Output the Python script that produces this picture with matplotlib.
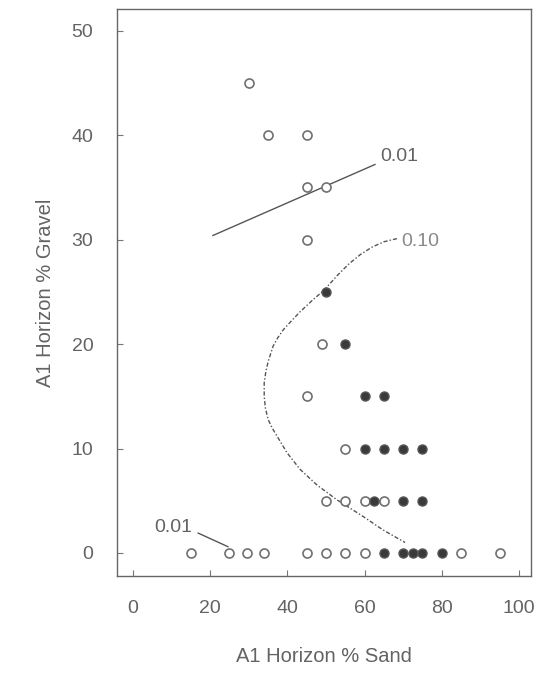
import numpy as np
import matplotlib
matplotlib.use("Agg")
import matplotlib.pyplot as plt

plt.rcParams["font.family"] = ["Liberation Sans", "DejaVu Sans"]

# open circles (sand %, gravel %)
open_sand = [30, 35, 45, 45, 50, 45, 49, 45, 55,
             50, 55, 60, 65,
             15, 25, 29.5, 34, 45, 50, 55, 60, 85, 95]
open_gravel = [45, 40, 40, 35, 35, 30, 20, 15, 10,
               5, 5, 5, 5,
               0, 0, 0, 0, 0, 0, 0, 0, 0, 0]

# filled circles
fill_sand = [50, 55, 60, 65, 60, 65, 70, 75, 62.5, 70, 75, 65, 70, 72.5, 75, 80]
fill_gravel = [25, 20, 15, 15, 10, 10, 10, 10, 5, 5, 5, 0, 0, 0, 0, 0]

# 0.01 contour (straight segment)
c01_sand = [20.7, 62.7]
c01_gravel = [30.4, 37.2]

# 0.10 contour, points
c10_sand = [68.4, 65.0, 62.0, 59.0, 56.0, 53.0, 49.6, 46.5, 43.3, 41.0,
            39.0, 37.5, 36.3, 35.0, 34.4, 34.0, 34.0, 34.3, 35.0, 36.0, 37.3,
            39.9, 43.3, 47.7, 52.8, 59.6, 64.8, 70.5]
c10_gravel = [30.1, 29.8, 29.3, 28.6, 27.7, 26.6, 25.2, 24.2, 23.1, 22.2,
              21.4, 20.6, 19.8, 18.3, 17.3, 16.3, 15.0, 13.9, 12.8, 12.0, 11.2,
              9.6, 8.0, 6.5, 5.1, 3.5, 2.2, 1.0]

x_ticks = [0, 20, 40, 60, 80, 100]
y_ticks = [0, 10, 20, 30, 40, 50]

txt = "#636363"
line_c = "#555555"

fig = plt.figure(figsize=(5.39, 6.84), dpi=100)
ax = fig.add_axes([0.217, 0.158, 0.768, 0.829])

ax.plot(c01_sand, c01_gravel, color=line_c, lw=1.0)
ax.plot(c10_sand, c10_gravel, color=line_c, lw=1.0, linestyle=(0, (3, 1.5, 1, 1.5)))

ax.plot(open_sand, open_gravel, "o", ms=6.5, mfc="white", mec="#707070", mew=1.2, ls="none")
ax.plot(fill_sand, fill_gravel, "o", ms=6.5, mfc="#3a3a3a", mec="#555555", mew=1.0, ls="none")

# contour labels
ax.text(64, 38, "0.01", fontsize=14, color=txt, va="center", ha="left")
ax.text(69.5, 29.8, "0.10", fontsize=14, color="#8a8a8a", va="center", ha="left")
ax.text(5.5, 2.4, "0.01", fontsize=14, color=txt, va="center", ha="left")
ax.plot([16.9, 24.6], [1.9, 0.6], color=line_c, lw=1.0)

ax.set_xlim(-4.15, 103.1)
ax.set_ylim(-2.2, 52.1)
ax.set_xticks(x_ticks)
ax.set_yticks(y_ticks)
ax.tick_params(direction="in", length=4, width=0.8, color="#777777",
               labelsize=14, labelcolor=txt, pad=17)

for s in ax.spines.values():
    s.set_color("#666666")
    s.set_linewidth(1.0)

ax.set_xlabel("A1 Horizon % Sand", fontsize=14.5, color=txt, labelpad=22)
ax.set_ylabel("A1 Horizon % Gravel", fontsize=14.5, color=txt, labelpad=12)

fig.savefig("out.png", dpi=100)
